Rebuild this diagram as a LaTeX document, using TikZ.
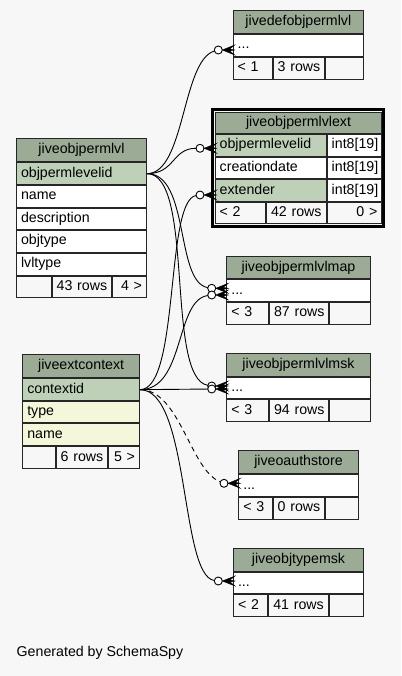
\documentclass[tikz,border=0pt]{standalone}
\usepackage{fontspec}
\setmainfont{Liberation Sans}
\definecolor{hdr}{HTML}{9BAB96}
\definecolor{key}{HTML}{BED1B8}
\definecolor{excl}{HTML}{F4F7DA}
\definecolor{bgc}{HTML}{F7F7F7}
\newcommand\tcell[8]{%
  \pgfmathsetmacro\tcw{#4-#2-10}%
  \pgfmathsetmacro\tch{#5-#3-1}%
  \node[cellst, fill=#6, align=#7, text width=\tcw pt, minimum height=\tch pt] (#1) at ({(#2+#4)/2},{(#3+#5)/2}) {#8};}
\newcommand\crowfoot[2]{%
  \fill[crowst] (#1.east) -- ([yshift=5pt,xshift=2pt]#1.east -| #2.west)
                -- ([yshift=1pt,xshift=-3pt]#1.east -| #2.west)
                -- ([xshift=2pt]#1.east -| #2.west)
                -- ([yshift=-1pt,xshift=-3pt]#1.east -| #2.west)
                -- ([yshift=-5pt,xshift=2pt]#1.east -| #2.west) -- cycle;}
\begin{document}
\begin{tikzpicture}[x=1pt,y=-1pt,
  font=\fontsize{14.2}{16}\selectfont,
  cellst/.style={draw=black!85, line width=1pt, inner xsep=4.5pt, inner ysep=0pt, outer sep=0.5pt, text height=10pt, text depth=3pt},
  odot/.style={circle, draw=black, fill=white, line width=0.9pt, minimum size=8pt, inner sep=0pt, outer sep=0pt},
  edgest/.style={draw=black, line width=0.9pt},
  crowst/.style={fill=black, draw=black, line width=0.4pt, line join=miter}]
\fill[bgc] (0,0) rectangle (401,676);
\useasboundingbox (0,0) rectangle (401,676);

% jiveobjpermlvl
\tcell{opl-h}{16}{138.3}{147}{162.3}{hdr}{center}{jiveobjpermlvl}
\tcell{opl-pk}{16}{162.3}{147}{185}{key}{left}{objpermlevelid}
\tcell{opl-name}{16}{185}{147}{207.7}{white}{left}{name}
\tcell{opl-desc}{16}{207.7}{147}{230}{white}{left}{description}
\tcell{opl-objtype}{16}{230}{147}{252.7}{white}{left}{objtype}
\tcell{opl-lvltype}{16}{252.7}{147}{275.7}{white}{left}{lvltype}
\tcell{opl-f1}{16}{275.7}{51.7}{298.3}{bgc}{left}{}
\tcell{opl-f2}{51.7}{275.7}{111.7}{298.3}{bgc}{left}{43~rows}
\tcell{opl-f3}{111.7}{275.7}{147}{298.3}{bgc}{right}{4~>}

% jiveextcontext
\tcell{ctx-h}{22.3}{354.3}{140}{378.3}{hdr}{center}{jiveextcontext}
\tcell{ctx-pk}{22.3}{378.3}{140}{401}{key}{left}{contextid}
\tcell{ctx-type}{22.3}{401}{140}{423.3}{excl}{left}{type}
\tcell{ctx-name}{22.3}{423.3}{140}{446}{excl}{left}{name}
\tcell{ctx-f1}{22.3}{446}{55.7}{469}{bgc}{left}{}
\tcell{ctx-f2}{55.7}{446}{107.7}{469}{bgc}{left}{6~rows}
\tcell{ctx-f3}{107.7}{446}{140}{469}{bgc}{right}{5~>}

% jivedefobjpermlvl
\tcell{def-h}{232.7}{10.3}{364}{34.3}{hdr}{center}{jivedefobjpermlvl}
\tcell{def-r}{232.7}{34.3}{364}{56.7}{white}{left}{...}
\tcell{def-f1}{232.7}{56.7}{272.7}{80}{bgc}{left}{<~1}
\tcell{def-f2}{272.7}{56.7}{325}{80}{bgc}{left}{3~rows}
\tcell{def-f3}{325}{56.7}{364}{80}{bgc}{left}{}

% jiveobjpermlvlext
\draw[line width=3pt] (212.8,109.8) rectangle (383.5,226.2);
\tcell{ext-h}{214.7}{111.7}{382.3}{134.3}{hdr}{center}{jiveobjpermlvlext}
\tcell{ext-pk}{214.7}{134.3}{326.7}{156.7}{key}{left}{objpermlevelid}
\tcell{ext-pkt}{326.7}{134.3}{382.3}{156.7}{white}{left}{int8[19]}
\tcell{ext-cd}{214.7}{156.7}{326.7}{179.3}{white}{left}{creationdate}
\tcell{ext-cdt}{326.7}{156.7}{382.3}{179.3}{white}{left}{int8[19]}
\tcell{ext-ex}{214.7}{179.3}{326.7}{201.7}{key}{left}{extender}
\tcell{ext-ext}{326.7}{179.3}{382.3}{201.7}{white}{left}{int8[19]}
\tcell{ext-f1}{214.7}{201.7}{266}{224.3}{bgc}{left}{<~2}
\tcell{ext-f2}{266}{201.7}{326.7}{224.3}{bgc}{left}{42~rows}
\tcell{ext-f3}{326.7}{201.7}{382.3}{224.3}{bgc}{right}{0~>}

% jiveobjpermlvlmap
\tcell{map-h}{226.3}{255.7}{370.7}{279.3}{hdr}{center}{jiveobjpermlvlmap}
\tcell{map-r}{226.3}{279.3}{370.7}{301.7}{white}{left}{...}
\tcell{map-f1}{226.3}{301.7}{269}{325}{bgc}{left}{<~3}
\tcell{map-f2}{269}{301.7}{329}{325}{bgc}{left}{87~rows}
\tcell{map-f3}{329}{301.7}{370.7}{325}{bgc}{left}{}

% jiveobjpermlvlmsk
\tcell{msk-h}{226.3}{352.7}{370.7}{376.7}{hdr}{center}{jiveobjpermlvlmsk}
\tcell{msk-r}{226.3}{376.7}{370.7}{399.3}{white}{left}{...}
\tcell{msk-f1}{226.3}{399.3}{269}{422}{bgc}{left}{<~3}
\tcell{msk-f2}{269}{399.3}{329}{422}{bgc}{left}{94~rows}
\tcell{msk-f3}{329}{399.3}{370.7}{422}{bgc}{left}{}

% jiveoauthstore
\tcell{oau-h}{238.3}{450.3}{358.7}{474.3}{hdr}{center}{jiveoauthstore}
\tcell{oau-r}{238.3}{474.3}{358.7}{496.7}{white}{left}{...}
\tcell{oau-f1}{238.3}{496.7}{272.7}{520}{bgc}{left}{<~3}
\tcell{oau-f2}{272.7}{496.7}{325}{520}{bgc}{left}{0~rows}
\tcell{oau-f3}{325}{496.7}{358.7}{520}{bgc}{left}{}

% jiveobjtypemsk
\tcell{otm-h}{233}{547.7}{364}{571.7}{hdr}{center}{jiveobjtypemsk}
\tcell{otm-r}{233}{571.7}{364}{594}{white}{left}{...}
\tcell{otm-f1}{233}{594}{268.3}{617.3}{bgc}{left}{<~2}
\tcell{otm-f2}{268.3}{594}{329}{617.3}{bgc}{left}{41~rows}
\tcell{otm-f3}{329}{594}{364}{617.3}{bgc}{left}{}

% circles
\node[odot] (c-def) at (218.3,50) {};
\node[odot] (c-ext1) at (200,148.3) {};
\node[odot] (c-ext2) at (200,195) {};
\node[odot] (c-map1) at (211.7,288.3) {};
\node[odot] (c-map2) at (211.7,295) {};
\node[odot] (c-msk1) at (211.7,386) {};
\node[odot] (c-msk2) at (211.7,389) {};
\node[odot] (c-oau) at (224,483.3) {};
\node[odot] (c-otm) at (218.3,581) {};

% edges
\path[edgest] (opl-pk.east) .. controls (185,173.7) and (182,60) .. (c-def);
\path[edgest] (opl-pk.east) .. controls (175,173.7) and (172,148.3) .. (c-ext1);
\path[edgest] (opl-pk.east) .. controls (190,173.7) and (175,282) .. (c-map1);
\path[edgest] (opl-pk.east) .. controls (195,173.7) and (165,378) .. (c-msk1);
\path[edgest] (ctx-pk.east) .. controls (180,389.7) and (165,200) .. (c-ext2);
\path[edgest] (ctx-pk.east) .. controls (185,389.7) and (175,300) .. (c-map2);
\path[edgest] (ctx-pk.east) -- (c-msk2);
\path[edgest, dash pattern=on 5pt off 4pt] (ctx-pk.east) .. controls (180,389.7) and (190,470) .. (c-oau);
\path[edgest] (ctx-pk.east) .. controls (190,389.7) and (180,576) .. (c-otm);

\crowfoot{c-def}{def-r}
\crowfoot{c-ext1}{ext-pk}
\crowfoot{c-ext2}{ext-ex}
\crowfoot{c-map1}{map-r}
\crowfoot{c-map2}{map-r}
\crowfoot{c-msk1}{msk-r}
\crowfoot{c-msk2}{msk-r}
\crowfoot{c-oau}{oau-r}
\crowfoot{c-otm}{otm-r}

\node[anchor=west, inner sep=0pt] (gen) at (16.5,653) {Generated by SchemaSpy};
\end{tikzpicture}
\end{document}
